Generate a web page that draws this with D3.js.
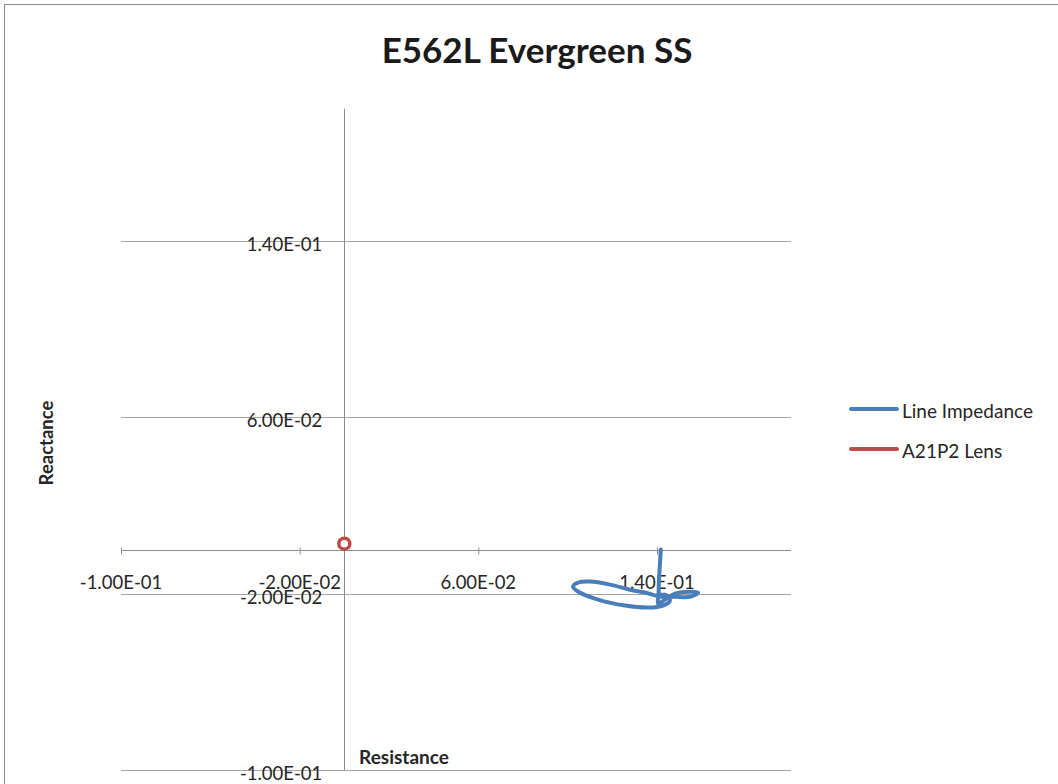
<!DOCTYPE html>
<html><head><meta charset="utf-8">
<script src="https://cdn.jsdelivr.net/npm/d3@7"></script>
<style>body{margin:0;background:#fff}svg{display:block}text{font-family:Lato,"Open Sans",sans-serif}</style>
</head><body><svg id="c" width="1058" height="784"></svg>
<script>
const title = "E562L Evergreen SS";
const xTickValues = [-0.1, -0.02, 0.06, 0.14];
const xTickLabels = ["-1.00E-01", "-2.00E-02", "6.00E-02", "1.40E-01"];
const yTickValues = [-0.1, -0.02, 0.06, 0.14];
const yTickLabels = ["-1.00E-01", "-2.00E-02", "6.00E-02", "1.40E-01"];
const seriesNames = ["Line Impedance", "A21P2 Lens"];
const impedanceR = [0.1417,0.1413,0.1409,0.1407,0.1405,0.1436,0.1481,0.1548,0.1584,0.1548,0.1481,0.1422,0.1346,0.1279,0.1190,0.1100,0.1046,0.1024,0.1046,0.1136,0.1257,0.1360,0.1427,0.1458,0.1445,0.1405];
const impedanceX = [0.0000,-0.0068,-0.0136,-0.0204,-0.0245,-0.0227,-0.0200,-0.0191,-0.0195,-0.0214,-0.0214,-0.0214,-0.0195,-0.0182,-0.0159,-0.0145,-0.0150,-0.0168,-0.0190,-0.0227,-0.0254,-0.0263,-0.0254,-0.0232,-0.0209,-0.0204];
const lensR = [0.0];
const lensX = [0.0027];

const svg = d3.select("#c");
const blue = "#4A7EBB", red = "#BE4B48";
svg.append("rect").attr("x",4.5).attr("y",4.5).attr("width",1200).attr("height",1000)
  .attr("fill","#fff").attr("stroke","#8c8c8c").attr("stroke-width",1);

const x = d3.scaleLinear().domain([-0.1,0.2]).range([121,791]);
const y = d3.scaleLinear().domain([-0.1,0.2]).range([770,108.8]);

svg.append("text").attr("x",537).attr("y",63).attr("text-anchor","middle")
  .attr("font-size",35).attr("font-weight","bold").attr("fill","#1a1a1a").text(title);

// horizontal gridlines
svg.append("g").selectAll("line").data(yTickValues).join("line")
  .attr("x1",x(-0.1)).attr("x2",x(0.2)).attr("y1",d=>Math.round(y(d))+0.5).attr("y2",d=>Math.round(y(d))+0.5)
  .attr("stroke","#a6a6a6").attr("stroke-width",1);

// x axis at y=0
const xAxis = d3.axisBottom(x).tickValues(xTickValues).tickSize(6).tickFormat("");
const gx = svg.append("g").attr("transform",`translate(0,${Math.round(y(0))+0.5})`).call(xAxis);
gx.select(".domain").attr("stroke","#8c8c8c").attr("d",`M${x(-0.1)},0H${x(0.2)}`);
gx.selectAll(".tick line").attr("stroke","#8c8c8c").attr("y1",-3).attr("y2",4);
// y axis at x=0
const yAxis = d3.axisLeft(y).tickValues(yTickValues).tickSize(0).tickFormat("");
const gy = svg.append("g").attr("transform",`translate(${Math.round(x(0))+0.5},0)`).call(yAxis);
gy.select(".domain").attr("stroke","#8c8c8c").attr("d",`M0,${y(0.2)}V${y(-0.1)}`);

// x tick labels
svg.append("g").selectAll("text").data(xTickValues).join("text")
  .attr("x",d=>x(d)).attr("y",y(0)+32).attr("text-anchor","middle").attr("dominant-baseline","central")
  .attr("font-size",18.5).attr("fill","#262626").text((d,i)=>xTickLabels[i]);
// y tick labels
svg.append("g").selectAll("text").data(yTickValues).join("text")
  .attr("x",x(0)-22).attr("y",d=>y(d)+3).attr("text-anchor","end").attr("dominant-baseline","central")
  .attr("font-size",18.5).attr("fill","#262626").text((d,i)=>yTickLabels[i]);

// axis titles
svg.append("text").attr("transform","translate(53,443) rotate(-90)").attr("text-anchor","middle")
  .attr("font-size",18.5).attr("font-weight","bold").attr("fill","#262626").text("Reactance");
svg.append("text").attr("x",404).attr("y",764).attr("text-anchor","middle")
  .attr("font-size",19).attr("font-weight","bold").attr("fill","#262626").text("Resistance");

// series
const pts = impedanceR.map((r,i)=>[r,impedanceX[i]]);
svg.append("path").datum(pts)
  .attr("d",d3.line().x(d=>x(d[0])).y(d=>y(d[1])).curve(d3.curveCatmullRom.alpha(0.5)))
  .attr("fill","none").attr("stroke",blue).attr("stroke-width",4).attr("stroke-linecap","round").attr("stroke-linejoin","round");

svg.append("g").selectAll("circle").data(lensR.map((r,i)=>[r,lensX[i]])).join("circle")
  .attr("cx",d=>x(d[0])).attr("cy",d=>y(d[1])).attr("r",5.5)
  .attr("fill","#fff").attr("stroke",red).attr("stroke-width",3.5);

// legend
const leg = svg.append("g").selectAll("g").data(seriesNames).join("g")
  .attr("transform",(d,i)=>`translate(851,${409+i*40})`);
leg.append("line").attr("x1",0).attr("x2",46).attr("y1",0).attr("y2",0)
  .attr("stroke",(d,i)=>i===0?blue:red).attr("stroke-width",4).attr("stroke-linecap","round");
leg.append("text").attr("x",51).attr("y",1).attr("dominant-baseline","central")
  .attr("font-size",19).attr("fill","#262626").text(d=>d);
</script></body></html>
